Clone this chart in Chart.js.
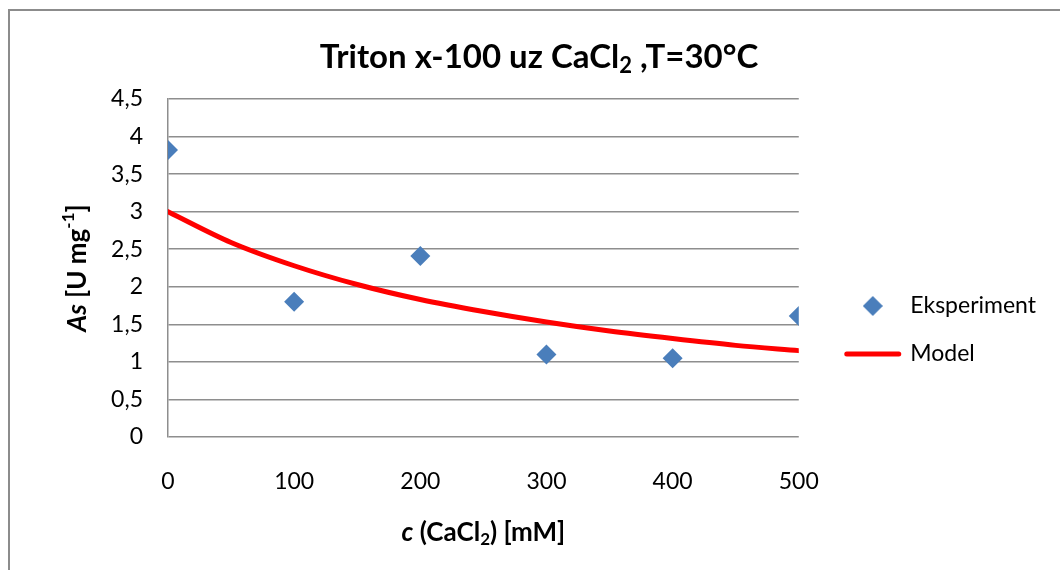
<!DOCTYPE html>
<html>
<head>
<meta charset="utf-8">
<script src="https://cdn.jsdelivr.net/npm/chart.js@4"></script>
<style>
  html, body { margin: 0; padding: 0; background: #fff; overflow: hidden; }
  #frame { position: absolute; left: 8px; top: 9px; width: 1060px; height: 570px;
           border-left: 2px solid #8c8c8c; border-top: 2px solid #8c8c8c; }
  #wrap { position: absolute; left: 0; top: 0; width: 1060px; height: 570px; }
</style>
</head>
<body>
<div id="frame"></div>
<div id="wrap"><canvas id="chart"></canvas></div>
<script>
// dados
const xEksperiment = [0, 100, 200, 300, 400, 500];
const yEksperiment = [3.82, 1.80, 2.41, 1.10, 1.05, 1.61];

const xModel = [0, 50, 100, 150, 200, 250, 300, 350, 400, 450, 500];
const yModel = [3.00, 2.59, 2.28, 2.03, 1.83, 1.67, 1.53, 1.41, 1.31, 1.22, 1.15];

const xTickLabels = ['0', '100', '200', '300', '400', '500'];
const yTickLabels = ['0', '0,5', '1', '1,5', '2', '2,5', '3', '3,5', '4', '4,5'];

const FONT = 'Lato';
const BLUE = '#4a7ebb';
const GRID = '#8e8e8e';

// losango da legenda
const diamond = document.createElement('canvas');
diamond.width = 20; diamond.height = 20;
const dctx = diamond.getContext('2d');
dctx.fillStyle = BLUE;
dctx.beginPath();
dctx.moveTo(10, 0); dctx.lineTo(20, 10); dctx.lineTo(10, 20); dctx.lineTo(0, 10);
dctx.closePath();
dctx.fill();

// texto com partes em itálico / índice
function drawParts(ctx, parts, cx, cy) {
    let total = 0;
    parts.forEach(p => { ctx.font = p.font; p.w = ctx.measureText(p.t).width; total += p.w; });
    let x = cx - total / 2;
    ctx.textBaseline = 'middle';
    ctx.textAlign = 'left';
    ctx.fillStyle = '#000';
    parts.forEach(p => {
        ctx.font = p.font;
        ctx.fillText(p.t, x, cy + (p.dy || 0));
        x += p.w;
    });
}

const titles = {
    id: 'titles',
    afterLayout(chart) {
        // legenda um pouco afastada do gráfico
        chart.legend.left += 23;
        chart.legend.right += 23;
        chart.legend.top -= 9;
    },
    afterDraw(chart) {
        const ctx = chart.ctx;
        const area = chart.chartArea;
        const b = 'bold 26px ' + FONT;
        const bi = 'italic bold 26px ' + FONT;
        const small = 'bold 17px ' + FONT;
        ctx.save();
        drawParts(ctx, [
            { t: 'Triton x-100 uz CaCl', font: 'bold 33px ' + FONT },
            { t: '2', font: 'bold 22px ' + FONT, dy: 9 },
            { t: ' ,T=30°C', font: 'bold 33px ' + FONT }
        ], 539, 57);
        drawParts(ctx, [
            { t: 'c', font: bi },
            { t: ' (CaCl', font: b },
            { t: '2', font: small, dy: 7 },
            { t: ') [mM]', font: b }
        ], (area.left + area.right) / 2, 533);
        ctx.translate(78, (area.top + area.bottom) / 2);
        ctx.rotate(-Math.PI / 2);
        drawParts(ctx, [
            { t: 'As', font: bi },
            { t: ' [U mg', font: b },
            { t: '-1', font: small, dy: -9 },
            { t: ']', font: b }
        ], 0, 0);
        ctx.restore();
    }
};

const ctx = document.getElementById('chart').getContext('2d');
const chart = new Chart(ctx, {
    type: 'scatter',
    data: {
        datasets: [{
            label: 'Eksperiment',
            data: xEksperiment.map((x, i) => ({ x: x, y: yEksperiment[i] })),
            pointStyle: 'rectRot',
            pointRadius: 10,
            pointHoverRadius: 10,
            backgroundColor: BLUE,
            borderColor: BLUE,
            borderWidth: 0
        }, {
            label: 'Model',
            data: xModel.map((x, i) => ({ x: x, y: yModel[i] })),
            showLine: true,
            borderColor: '#ff0000',
            backgroundColor: '#ff0000',
            borderWidth: 5,
            borderCapStyle: 'round',
            cubicInterpolationMode: 'monotone',
            pointRadius: 0,
            pointHoverRadius: 0,
            pointStyle: 'line'
        }]
    },
    options: {
        responsive: true,
        maintainAspectRatio: false,
        animation: false,
        layout: { padding: { top: 99, right: 37, bottom: 0, left: 0 } },
        plugins: {
            tooltip: { enabled: false },
            title: { display: false },
            legend: {
                position: 'right',
                labels: {
                    usePointStyle: true,
                    pointStyleWidth: 52,
                    boxHeight: 14,
                    padding: 25,
                    color: '#000',
                    font: { family: FONT, size: 23 },
                    generateLabels(chart) {
                        const items = Chart.defaults.plugins.legend.labels.generateLabels(chart);
                        items[0].pointStyle = diamond;
                        items[1].lineCap = 'round';
                        items[1].lineWidth = 5;
                        items[1].strokeStyle = '#ff0000';
                        return items;
                    }
                }
            }
        },
        scales: {
            x: {
                type: 'linear',
                min: 0, max: 500,
                afterFit(s) { s.height = 133; },
                afterBuildTicks(s) { s.ticks = xTickLabels.map(t => ({ value: Number(t) })); },
                ticks: {
                    color: '#000',
                    padding: 23,
                    font: { family: FONT, size: 23 },
                    callback: (v, i) => xTickLabels[i]
                },
                grid: { display: false },
                border: { display: false }
            },
            y: {
                min: 0, max: 4.5,
                afterFit(s) { s.width = 168; },
                ticks: {
                    stepSize: 0.5,
                    color: '#000',
                    padding: 25,
                    font: { family: FONT, size: 23 },
                    callback: (v, i) => yTickLabels[i]
                },
                grid: { color: GRID, lineWidth: 1.5, drawTicks: false },
                border: { color: GRID, width: 1.5 }
            }
        }
    },
    plugins: [titles]
});
</script>
</body>
</html>
